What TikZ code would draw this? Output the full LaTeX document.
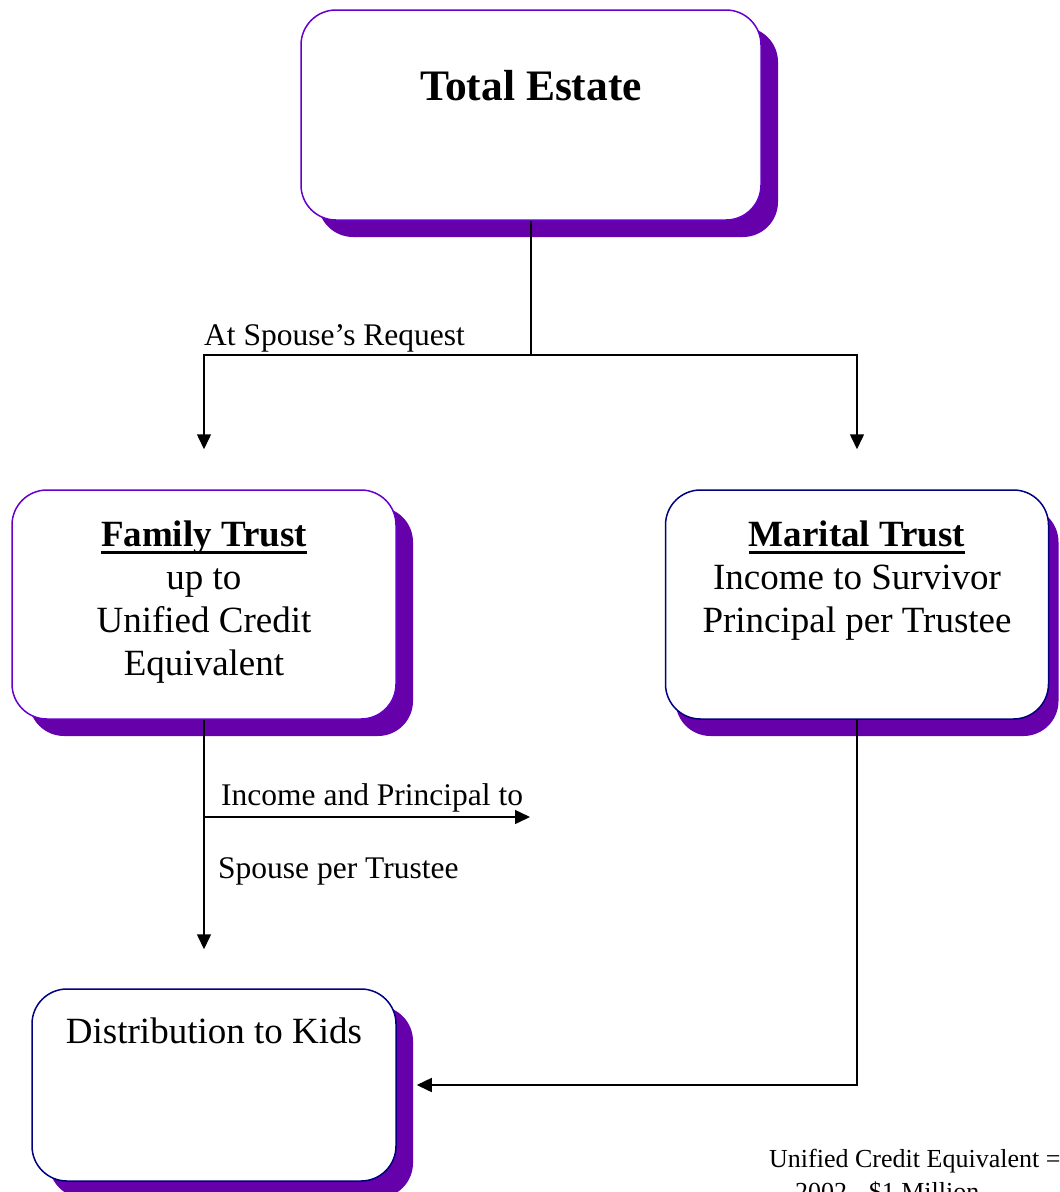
\documentclass[tikz,border=0pt]{standalone}
\usepackage{fontspec}
\setmainfont{Liberation Serif}
\usetikzlibrary{arrows.meta,shadows}
\definecolor{shadec}{RGB}{102,0,170}
\definecolor{purpleb}{RGB}{102,0,204}
\definecolor{navyb}{RGB}{0,0,128}
\newcommand\ulbold[1]{\setbox0\hbox{#1}\rlap{\rule[-7.5pt]{\wd0}{3pt}}\box0}
\begin{document}
\begin{tikzpicture}[x=1pt,y=-1pt,
  boxbase/.style={draw, line width=1.5pt, fill=white, rounded corners=35pt, inner sep=0pt},
  shad/.style={drop shadow={shadow xshift=#1, shadow yshift=-17pt, fill=shadec, opacity=1}},
  boxtext/.style={inner sep=0pt, align=center, font=\fontsize{37}{43}\selectfont, anchor=base},
  lbl/.style={inner sep=0pt, anchor=base west, font=\fontsize{31.5}{36}\selectfont},
  arr/.style={line width=1.5pt, -{Triangle[width=14pt,length=15pt]}},
  conn/.style={line width=1.5pt}]
\useasboundingbox (0,0) rectangle (1060,1192);
\clip (0,0) rectangle (1060,1192);

% boxes
\node[boxbase, shad=17pt, draw=purpleb, minimum width=460pt, minimum height=210pt] (te) at (531,115) {};
\node[boxbase, shad=17pt, draw=purpleb, minimum width=384pt, minimum height=229pt] (ft) at (204,604.5) {};
\node[boxbase, shad=10pt, draw=navyb, minimum width=383pt, minimum height=229pt] (mt) at (857,604.5) {};
\node[boxbase, shad=17pt, draw=navyb, minimum width=364pt, minimum height=192pt] (dk) at (214,1085) {};

% box texts (anchor = baseline of the last line)
\node[inner sep=0pt, anchor=base, font=\fontsize{43.5}{48}\selectfont\bfseries] (tetext) at (531,100) {Total Estate};
\node[boxtext] (fttext) at (204,675) {\textbf{\ulbold{Family Trust}}\\up to\\Unified Credit\\Equivalent};
\node[boxtext] (mttext) at (857,632) {\textbf{\ulbold{Marital Trust}}\\Income to Survivor\\Principal per Trustee};
\node[boxtext] (dktext) at (214,1043) {Distribution to Kids};

% connectors
\coordinate (split) at (te.south |- 0,355);
\coordinate (branch) at (204,817);
\coordinate (incend) at (530,817);
\draw[conn] (te.south) -- (split);
\draw[arr, shorten >=40pt] (split) -| (ft.north);
\draw[arr, shorten >=40pt] (split) -| (mt.north);
\draw[arr, shorten >=39pt] (ft.south) -- (ft.south |- dk.north);
\draw[arr] (branch) -- (incend);
\draw[arr, shorten >=20pt] (mt.south) |- (dk.east);

% labels
\node[lbl] (l1) at (204,345) {At Spouse’s Request};
\node[lbl] (l2) at (221,805) {Income and Principal to};
\node[lbl] (l3) at (218,878) {Spouse per Trustee};
\node[inner sep=0pt, anchor=base west, font=\fontsize{26}{30}\selectfont] (n1) at (769,1167) {Unified Credit Equivalent =};
\node[inner sep=0pt, anchor=base west, font=\fontsize{26}{30}\selectfont] (n2) at (795,1200) {2002 - \$1 Million};
\end{tikzpicture}
\end{document}
